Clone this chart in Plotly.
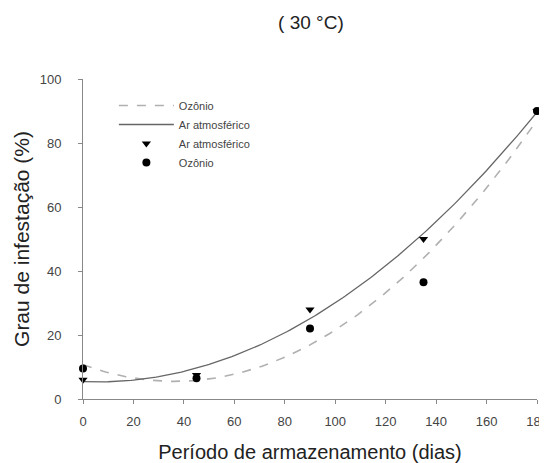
import numpy as np
import plotly.graph_objects as go

# storage period (days) and infestation (%)
dias = [0, 45, 90, 135, 180]
ar_atm = [6.0, 7.5, 28.0, 50.0, 90.0]
ozonio = [9.5, 6.5, 22.0, 36.5, 90.0]

x_ticks = [0, 20, 40, 60, 80, 100, 120, 140, 160, 180]
y_ticks = [0, 20, 40, 60, 80, 100]

# quadratic regressions, as in the original figure
xs = np.linspace(0, 180, 181)
fit_ar = np.polyval(np.polyfit(dias, ar_atm, 2), xs)
fit_oz = np.polyval(np.polyfit(dias, ozonio, 2), xs)

FONT = "Liberation Sans, Arial, sans-serif"

fig = go.Figure()
fig.add_trace(go.Scatter(x=xs, y=fit_oz, mode="lines", name="Ozônio",
                         line=dict(color="#b0b0b0", width=1.6, dash="dash")))
fig.add_trace(go.Scatter(x=xs, y=fit_ar, mode="lines", name="Ar atmosférico",
                         line=dict(color="#666666", width=1.3)))
fig.add_trace(go.Scatter(x=dias, y=ar_atm, mode="markers", name="Ar atmosférico",
                         marker=dict(symbol="triangle-down", size=8, color="black"),
                         cliponaxis=False))
fig.add_trace(go.Scatter(x=dias, y=ozonio, mode="markers", name="Ozônio",
                         marker=dict(symbol="circle", size=8, color="black"),
                         cliponaxis=False))

axis_common = dict(showgrid=False, zeroline=False, showline=True, linecolor="#888888",
                   linewidth=1, ticks="outside", ticklen=4, tickcolor="#888888",
                   automargin=False, ticklabeloverflow="allow",
                   tickfont=dict(family=FONT, size=13, color="#444444"))

fig.update_xaxes(range=[0, 180], tickvals=x_ticks, ticklabelstandoff=6,
                 title=dict(text="Período de armazenamento (dias)", standoff=17,
                            font=dict(family=FONT, size=20, color="#222222")),
                 **axis_common)
fig.update_yaxes(range=[0, 100], tickvals=y_ticks, ticklabelstandoff=14,
                 title=dict(text="Grau de infestação (%)", standoff=4,
                            font=dict(family=FONT, size=21, color="#222222")),
                 **axis_common)

# page body adds an 8px offset, so the figure is slightly smaller than the window
fig.update_layout(
    width=539, height=455,
    margin=dict(l=75, r=10, t=71, b=64),
    plot_bgcolor="white", paper_bgcolor="white",
    title=dict(text="( 30 °C)", x=0.562, xanchor="center", y=0.969, yanchor="middle",
               font=dict(family=FONT, size=19, color="#222222")),
    legend=dict(x=0.068, y=0.9625, xanchor="left", yanchor="top", itemwidth=55,
                bgcolor="rgba(0,0,0,0)", tracegroupgap=0,
                font=dict(family=FONT, size=11, color="#444444")),
    showlegend=True,
)

fig.write_html("out.html")
